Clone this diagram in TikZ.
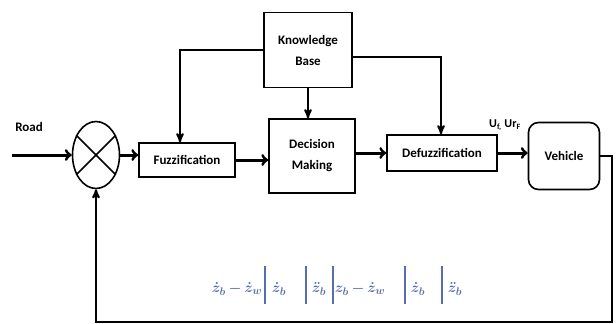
\documentclass[tikz,border=0pt]{standalone}
\usepackage{fontspec}
\setmainfont{Carlito}
\usepackage{tikz}
\usetikzlibrary{
        arrows,
        positioning,
        shapes,
        shapes.geometric
    }
\tikzset{>=stealth',auto}
\tikzset{block/.style={draw,line width=1.6pt,font=\bfseries\fontsize{13}{15}\selectfont,align=center,inner sep=2pt}}
\tikzset{sigline/.style={line width=3pt,-to}}
\tikzset{kbline/.style={line width=2pt,->}}
\tikzset{eqterm/.style={text=eqblue,font=\boldmath\fontsize{15}{17}\selectfont,inner sep=0pt}}
\definecolor{eqblue}{RGB}{88,108,176}

\begin{document}
\begin{tikzpicture}[x=1pt,y=-1pt]
    \useasboundingbox (0,0) rectangle (616,324);
        \node[block,minimum width=88,minimum height=75] (kb) at (308,50) {Knowledge\\[6pt]Base};
        \node[block,minimum width=96,minimum height=34] (fuzz) at (187,160) {Fuzzification};
        \node[block,minimum width=86,minimum height=74] (dm) at (312,156) {Decision\\[6pt]Making};
        \node[block,minimum width=110,minimum height=36] (defuzz) at (442,153) {Defuzzification};
        \node[block,rounded corners=10pt,minimum width=71,minimum height=67] (veh) at (564,156) {Vehicle};
        \node[draw,ellipse,line width=1.6pt,minimum width=47,minimum height=67,inner sep=0] (sj) at (96,155) {};
        \draw[line width=1.6pt] (sj.45) -- (sj.225) (sj.135) -- (sj.315);
        \node[font=\bfseries\fontsize{13}{15}\selectfont] (road) at (29,127) {Road};
        \node[font=\bfseries\fontsize{12}{14}\selectfont] (ulab) at (505,125) {U\textsubscript{f,} Ur\textsubscript{F}};
        \coordinate (roadin) at (12,155);
        \coordinate (fb) at (612,322);
    \path
        (roadin) edge[sigline] (sj.west)
        (sj.east) edge[sigline] (sj.east -| fuzz.west)
        (fuzz.east) edge[sigline] (fuzz.east -| dm.west)
        (dm.east |- defuzz.west) edge[sigline] (defuzz.west)
        (defuzz.east) edge[sigline] (defuzz.east -| veh.west)
        ;
    \draw[kbline] (kb.west) -| ([xshift=-7]fuzz.north);
    \draw[kbline] (kb.south) -- (kb.south |- dm.north);
    \draw[kbline] ([yshift=-7]kb.east) -| ([xshift=-1]defuzz.north);
    \draw[line width=2pt,->] (veh.east) -| (fb) -| (sj.south);
    % state terms
        \node[eqterm] (eq1) at (237,289) {$\dot z_b\,{-}\,\dot z_w$};
        \node[eqterm] (eq2) at (279,289) {$\dot z_b$};
        \node[eqterm] (eq3) at (319,289) {$\ddot z_b$};
        \node[eqterm] (eq4) at (360,289) {$z_b\,{-}\,\dot z_w$};
        \node[eqterm] (eq5) at (418,289) {$\dot z_b$};
        \node[eqterm] (eq6) at (455,289) {$\ddot z_b$};
        \draw[eqblue,line width=1.2pt] (265,266) -- (265,304) (306,266) -- (306,304) (333,266) -- (333,304)
            (405,266) -- (405,304) (442,266) -- (442,304);
\end{tikzpicture}
\end{document}
